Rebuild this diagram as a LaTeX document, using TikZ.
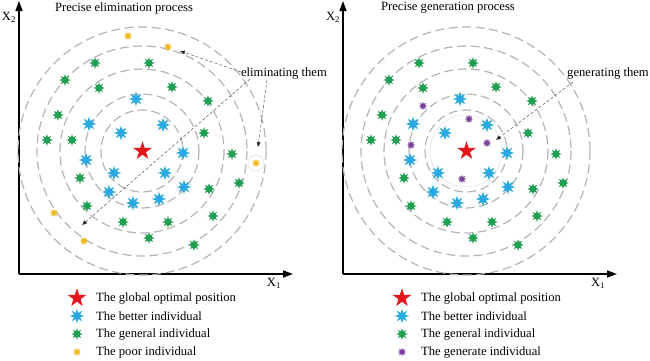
\documentclass[tikz,border=0pt]{standalone}
\usepackage{fontspec}
\setmainfont{Liberation Serif}
\usetikzlibrary{shapes.geometric,arrows.meta,calc}

\definecolor{cred}{HTML}{E8141B}
\definecolor{cblue}{HTML}{29A9E1}
\definecolor{cgreen}{HTML}{20A052}
\definecolor{cyellow}{HTML}{F4B823}
\definecolor{cpurple}{HTML}{7A3E9B}
\definecolor{ringgray}{HTML}{B4B4B4}

\newcommand\drawpanelbase[1]{%
  % axes
  \coordinate (#1o) at (19,274);
  \coordinate (#1y) at (19,1);
  \coordinate (#1x) at (293,274);
  \draw[axisline] (#1o) -- (#1y);
  \draw[axisline] (#1o) -- (#1x);
  \node[lab] (#1X2) at (9,17) {X\textsubscript{2}};
  \node[lab] (#1X1) at (274,283) {X\textsubscript{1}};
  % rings
  \coordinate (#1c) at (142,151);
  \foreach \r in {41,57,82,105,124}
    \draw[ringline] (#1c) circle[radius=\r];
  % general individuals
  \foreach \x/\y [count=\i] in {95/63,149/63,65/80,99/88,172/87,208/101,58/115,204/133,47/140,72/140,
      232/154,80/178,239/183,209/189,87/206,213/216,123/222,168/222,149/238,194/245}
    \node[general] (#1g\i) at (\x,\y) {};
  % better individuals
  \foreach \x/\y [count=\i] in {136/99,89/124,163/125,121/133,183/153,86/160,114/173,165/173,
      184/187,109/192,133/203,159/199}
    \node[better] (#1b\i) at (\x,\y) {};
  % global optimum
  \node[best] (#1best) at (142.5,151) {};
}

\begin{document}
\begin{tikzpicture}[x=1pt,y=-1pt,
  lab/.style={font=\fontsize{12.6}{15}\selectfont, inner sep=0pt},
  best/.style={star, star points=5, star point ratio=2.6, fill=cred, minimum size=19.5pt, inner sep=0pt},
  better/.style={star, star points=8, star point ratio=2.3, fill=cblue, minimum size=15pt, inner sep=0pt},
  general/.style={star, star points=8, star point ratio=2.0, fill=cgreen, minimum size=11.5pt, inner sep=0pt},
  poor/.style={star, star points=8, star point ratio=2.0, fill=cyellow, minimum size=8.5pt, inner sep=0pt},
  generated/.style={star, star points=8, star point ratio=2.0, fill=cpurple, minimum size=8.5pt, inner sep=0pt},
  ringline/.style={draw=ringgray, line width=1.2pt, dash pattern=on 9pt off 4.5pt},
  faint/.style={draw=black!12, line width=0.5pt},
  axisline/.style={line width=1.6pt, -{Triangle[length=10pt,width=7pt]}},
  pointer/.style={draw=black!65, line width=0.5pt, dash pattern=on 3pt off 2pt,
    -{Triangle[length=5pt,width=4pt,fill=black]}}
]
\useasboundingbox (0,0) rectangle (650,360);

% ---------------- left panel ----------------
\begin{scope}
  \draw[faint] (256,163) circle[radius=8];
  \drawpanelbase{L}
  \foreach \x/\y [count=\i] in {128/36,168/47,256/163,54/213,84/241}
    \node[poor] (Lp\i) at (\x,\y) {};
  \node[lab] (Ltitle) at (124,8) {Precise elimination process};
  \node[lab] (elim) at (284,73) {eliminating them};
  \coordinate (Ls1) at (241,72);
  \coordinate (Lt1) at (180,51);
  \coordinate (Ls2) at (250,79);
  \coordinate (Lt2) at (82,225);
  \coordinate (Ls3) at (267,80);
  \coordinate (Lt3) at (258,147);
  \draw[pointer] (Ls1) -- (Lt1);
  \draw[pointer] (Ls2) -- (Lt2);
  \draw[pointer] (Ls3) -- (Lt3);
  % legend
  \node[best] (Lk1) at (77,298) {};
  \node[lab, anchor=west] (Ll1) at (96,298) {The global optimal position};
  \node[better] (Lk2) at (77,316) {};
  \node[lab, anchor=west] (Ll2) at (96,316) {The better individual};
  \node[general] (Lk3) at (77,334) {};
  \node[lab, anchor=west] (Ll3) at (96,334) {The general individual};
  \node[poor] (Lk4) at (77,352) {};
  \node[lab, anchor=west] (Ll4) at (96,352) {The poor individual};
\end{scope}

% ---------------- right panel ----------------
\begin{scope}[xshift=324pt]
  \draw[faint] (142,151) circle[radius=36];
  \drawpanelbase{R}
  \foreach \x/\y [count=\i] in {99/106,145/119,87/145,163/143,138/179}
    \node[generated] (Rq\i) at (\x,\y) {};
  \node[lab] (Rtitle) at (124,8) {Precise generation process};
  \node[lab] (gener) at (284,73) {generating them};
  \coordinate (Rs1) at (249,82);
  \coordinate (Rt1) at (172,140);
  \draw[pointer] (Rs1) -- (Rt1);
  % legend
  \node[best] (Rk1) at (78,298) {};
  \node[lab, anchor=west] (Rl1) at (97,298) {The global optimal position};
  \node[better] (Rk2) at (78,316) {};
  \node[lab, anchor=west] (Rl2) at (97,316) {The better individual};
  \node[general] (Rk3) at (78,334) {};
  \node[lab, anchor=west] (Rl3) at (97,334) {The general individual};
  \node[generated] (Rk4) at (78,352) {};
  \node[lab, anchor=west] (Rl4) at (97,352) {The generate individual};
\end{scope}
\end{tikzpicture}
\end{document}
